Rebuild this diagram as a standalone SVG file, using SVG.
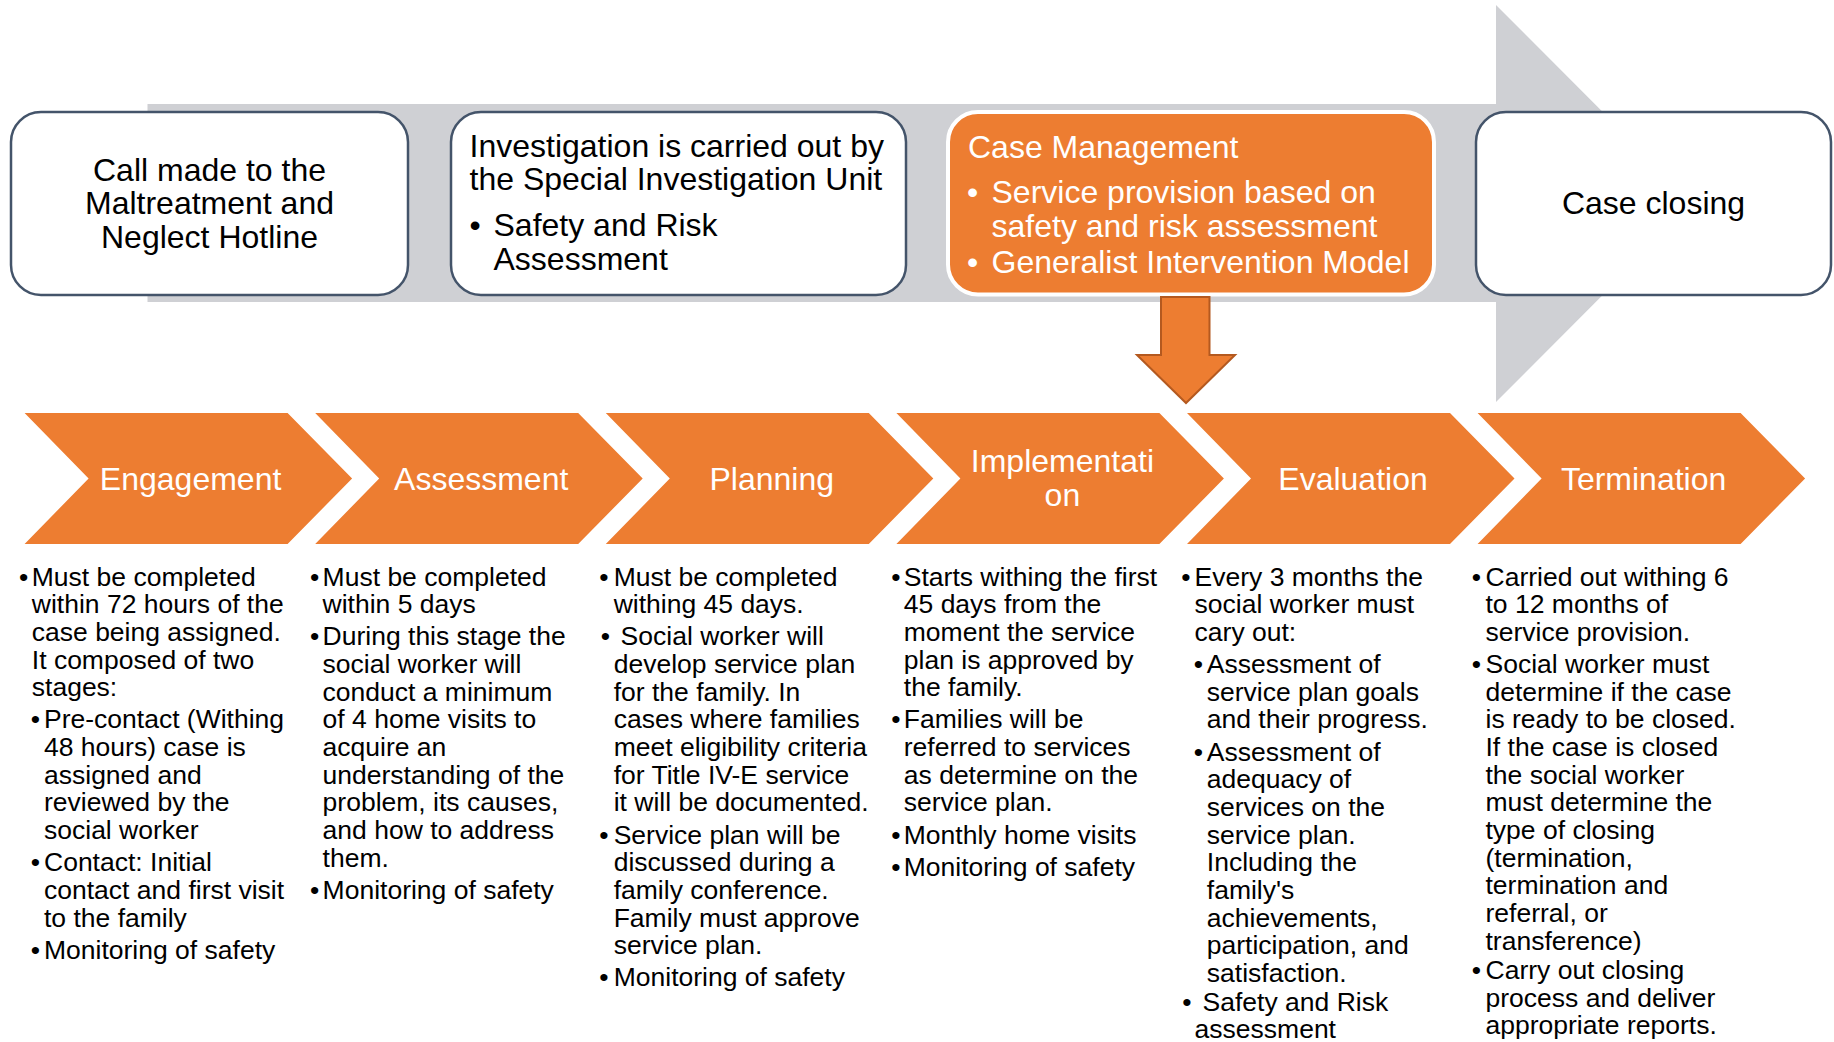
<svg xmlns="http://www.w3.org/2000/svg" width="1834" height="1042" viewBox="0 0 1834 1042">
<style>
text{font-family:"Liberation Sans",Arial,Helvetica,sans-serif;}
.box{fill:#FFFFFF;stroke:#44546A;stroke-width:2.5;}
.obox{fill:#ED7D31;stroke:#FFFFFF;stroke-width:4;}
.chev{fill:#ED7D31;}
.big{font-size:32px;fill:#000000;}
.bigw{font-size:32px;fill:#FFFFFF;}
.lbl{font-size:32px;fill:#FFFFFF;text-anchor:middle;}
.t{font-size:26.5px;fill:#000000;}
.b{font-size:26.5px;fill:#000000;text-anchor:middle;}
</style>
<rect x="0" y="0" width="1834" height="1042" fill="#FFFFFF"/>
<g id="background-arrow">
<polygon points="147.5,104 1496,104 1496,5 1694,203.5 1496,402 1496,302 147.5,302" fill="#CFD0D4"/>
</g>
<g id="node-hotline">
<rect class="box" x="11" y="112" width="397" height="183" rx="30" ry="30"/>
<text class="big" text-anchor="middle"><tspan x="209.5" y="180.5">Call made to the</tspan><tspan x="209.5" y="214">Maltreatment and</tspan><tspan x="209.5" y="247.5">Neglect Hotline</tspan></text>
</g>
<g id="node-investigation">
<rect class="box" x="451" y="112" width="455" height="183" rx="30" ry="30"/>
<text class="big"><tspan x="469.5" y="157">Investigation is carried out by</tspan><tspan x="469.5" y="190">the Special Investigation Unit</tspan></text>
<text class="big" x="475" y="236" text-anchor="middle">•</text>
<text class="big"><tspan x="493.5" y="236">Safety and Risk</tspan><tspan x="493.5" y="269.5">Assessment</tspan></text>
</g>
<g id="node-case-management">
<rect class="obox" x="948" y="112" width="486" height="182.5" rx="30" ry="30"/>
<text class="bigw" x="968" y="157.5">Case Management</text>
<text class="bigw" x="972.5" y="203" text-anchor="middle">•</text>
<text class="bigw"><tspan x="991.5" y="203">Service provision based on</tspan><tspan x="991.5" y="236.5">safety and risk assessment</tspan></text>
<text class="bigw" x="972.5" y="273" text-anchor="middle">•</text>
<text class="bigw" x="991.5" y="273">Generalist Intervention Model</text>
</g>
<g id="node-case-closing">
<rect class="box" x="1476" y="112" width="355" height="183" rx="30" ry="30"/>
<text class="big" x="1653.5" y="214" text-anchor="middle">Case closing</text>
</g>
<g id="connectors">
<polygon points="1161,297 1209.5,297 1209.5,355 1235,355 1186,403 1137,355 1161,355" fill="#ED7D31" stroke="#B4591F" stroke-width="2" stroke-linejoin="miter"/>
</g>
<g id="stage-engagement">
<polygon class="chev" points="24.6,413 287.6,413 352.1,478.5 287.6,544 24.6,544 88.6,478.5"/>
<text class="lbl" x="190.6" y="489.5">Engagement</text>
</g>
<g id="stage-assessment">
<polygon class="chev" points="315.2,413 578.2,413 642.7,478.5 578.2,544 315.2,544 379.2,478.5"/>
<text class="lbl" x="481.2" y="489.5">Assessment</text>
</g>
<g id="stage-planning">
<polygon class="chev" points="605.8,413 868.8,413 933.3,478.5 868.8,544 605.8,544 669.8,478.5"/>
<text class="lbl" x="771.8" y="489.5">Planning</text>
</g>
<g id="stage-implementation">
<polygon class="chev" points="896.4,413 1159.4,413 1223.9,478.5 1159.4,544 896.4,544 960.4,478.5"/>
<text class="lbl"><tspan x="1062.4" y="472">Implementati</tspan><tspan x="1062.4" y="506">on</tspan></text>
</g>
<g id="stage-evaluation">
<polygon class="chev" points="1187,413 1450,413 1514.5,478.5 1450,544 1187,544 1251,478.5"/>
<text class="lbl" x="1353" y="489.5">Evaluation</text>
</g>
<g id="stage-termination">
<polygon class="chev" points="1477.6,413 1740.6,413 1805.1,478.5 1740.6,544 1477.6,544 1541.6,478.5"/>
<text class="lbl" x="1643.6" y="489.5">Termination</text>
</g>
<g id="details-engagement">
<text class="b" x="23.7" y="585.5">•</text>
<text class="t"><tspan x="31.8" y="585.5">Must be completed</tspan><tspan x="31.8" y="613.2">within 72 hours of the</tspan><tspan x="31.8" y="640.8">case being assigned.</tspan><tspan x="31.8" y="668.5">It composed of two</tspan><tspan x="31.8" y="696.2">stages:</tspan></text>
<text class="b" x="35.5" y="728.4">•</text>
<text class="t"><tspan x="44" y="728.4">Pre-contact (Withing</tspan><tspan x="44" y="756">48 hours) case is</tspan><tspan x="44" y="783.7">assigned and</tspan><tspan x="44" y="811.3">reviewed by the</tspan><tspan x="44" y="839">social worker</tspan></text>
<text class="b" x="35.5" y="871.2">•</text>
<text class="t"><tspan x="44" y="871.2">Contact: Initial</tspan><tspan x="44" y="898.7">contact and first visit</tspan><tspan x="44" y="926.5">to the family</tspan></text>
<text class="b" x="35.5" y="958.7">•</text>
<text class="t" x="44" y="958.7">Monitoring of safety</text>
</g>
<g id="details-assessment">
<text class="b" x="314.6" y="585.5">•</text>
<text class="t"><tspan x="322.6" y="585.5">Must be completed</tspan><tspan x="322.6" y="613.2">within 5 days</tspan></text>
<text class="b" x="314.6" y="645.4">•</text>
<text class="t"><tspan x="322.6" y="645.4">During this stage the</tspan><tspan x="322.6" y="673">social worker will</tspan><tspan x="322.6" y="700.7">conduct a minimum</tspan><tspan x="322.6" y="728.4">of 4 home visits to</tspan><tspan x="322.6" y="756">acquire an</tspan><tspan x="322.6" y="783.7">understanding of the</tspan><tspan x="322.6" y="811.3">problem, its causes,</tspan><tspan x="322.6" y="839">and how to address</tspan><tspan x="322.6" y="866.7">them.</tspan></text>
<text class="b" x="314.6" y="898.7">•</text>
<text class="t" x="322.6" y="898.7">Monitoring of safety</text>
</g>
<g id="details-planning">
<text class="b" x="604" y="585.5">•</text>
<text class="t"><tspan x="613.7" y="585.5">Must be completed</tspan><tspan x="613.7" y="613.2">withing 45 days.</tspan></text>
<text class="b" x="605.5" y="645.4">•</text>
<text class="t"><tspan x="620.6" y="645.4">Social worker will</tspan><tspan x="613.7" y="673">develop service plan</tspan><tspan x="613.7" y="700.7">for the family. In</tspan><tspan x="613.7" y="728.4">cases where families</tspan><tspan x="613.7" y="756">meet eligibility criteria</tspan><tspan x="613.7" y="783.7">for Title IV-E service</tspan><tspan x="613.7" y="811.3">it will be documented.</tspan></text>
<text class="b" x="604" y="843.5">•</text>
<text class="t"><tspan x="613.7" y="843.5">Service plan will be</tspan><tspan x="613.7" y="871.2">discussed during a</tspan><tspan x="613.7" y="898.7">family conference.</tspan><tspan x="613.7" y="926.5">Family must approve</tspan><tspan x="613.7" y="954.2">service plan.</tspan></text>
<text class="b" x="604" y="986.4">•</text>
<text class="t" x="613.7" y="986.4">Monitoring of safety</text>
</g>
<g id="details-implementation">
<text class="b" x="896" y="585.5">•</text>
<text class="t"><tspan x="903.8" y="585.5">Starts withing the first</tspan><tspan x="903.8" y="613.2">45 days from the</tspan><tspan x="903.8" y="640.8">moment the service</tspan><tspan x="903.8" y="668.5">plan is approved by</tspan><tspan x="903.8" y="696.2">the family.</tspan></text>
<text class="b" x="896" y="728.4">•</text>
<text class="t"><tspan x="903.8" y="728.4">Families will be</tspan><tspan x="903.8" y="756">referred to services</tspan><tspan x="903.8" y="783.7">as determine on the</tspan><tspan x="903.8" y="811.3">service plan.</tspan></text>
<text class="b" x="896" y="843.5">•</text>
<text class="t" x="903.8" y="843.5">Monthly home visits</text>
<text class="b" x="896" y="875.7">•</text>
<text class="t" x="903.8" y="875.7">Monitoring of safety</text>
</g>
<g id="details-evaluation">
<text class="b" x="1186" y="585.5">•</text>
<text class="t"><tspan x="1194.6" y="585.5">Every 3 months the</tspan><tspan x="1194.6" y="613.2">social worker must</tspan><tspan x="1194.6" y="640.8">cary out:</tspan></text>
<text class="b" x="1198.5" y="673">•</text>
<text class="t"><tspan x="1206.8" y="673">Assessment of</tspan><tspan x="1206.8" y="700.7">service plan goals</tspan><tspan x="1206.8" y="728.4">and their progress.</tspan></text>
<text class="b" x="1198.5" y="760.5">•</text>
<text class="t"><tspan x="1206.8" y="760.5">Assessment of</tspan><tspan x="1206.8" y="788.2">adequacy of</tspan><tspan x="1206.8" y="815.9">services on the</tspan><tspan x="1206.8" y="843.5">service plan.</tspan><tspan x="1206.8" y="871.2">Including the</tspan><tspan x="1206.8" y="898.7">family's</tspan><tspan x="1206.8" y="926.5">achievements,</tspan><tspan x="1206.8" y="954.2">participation, and</tspan><tspan x="1206.8" y="981.9">satisfaction.</tspan></text>
<text class="b" x="1187" y="1010.5">•</text>
<text class="t"><tspan x="1202.6" y="1010.5">Safety and Risk</tspan><tspan x="1194.6" y="1038">assessment</tspan></text>
</g>
<g id="details-termination">
<text class="b" x="1476.5" y="585.5">•</text>
<text class="t"><tspan x="1485.5" y="585.5">Carried out withing 6</tspan><tspan x="1485.5" y="613.2">to 12 months of</tspan><tspan x="1485.5" y="640.8">service provision.</tspan></text>
<text class="b" x="1476.5" y="673">•</text>
<text class="t"><tspan x="1485.5" y="673">Social worker must</tspan><tspan x="1485.5" y="700.7">determine if the case</tspan><tspan x="1485.5" y="728.4">is ready to be closed.</tspan><tspan x="1485.5" y="756">If the case is closed</tspan><tspan x="1485.5" y="783.7">the social worker</tspan><tspan x="1485.5" y="811.3">must determine the</tspan><tspan x="1485.5" y="839">type of closing</tspan><tspan x="1485.5" y="866.7">(termination,</tspan><tspan x="1485.5" y="894.3">termination and</tspan><tspan x="1485.5" y="922">referral, or</tspan><tspan x="1485.5" y="949.7">transference)</tspan></text>
<text class="b" x="1476.5" y="979">•</text>
<text class="t"><tspan x="1485.5" y="979">Carry out closing</tspan><tspan x="1485.5" y="1006.5">process and deliver</tspan><tspan x="1485.5" y="1034">appropriate reports.</tspan></text>
</g>
</svg>
